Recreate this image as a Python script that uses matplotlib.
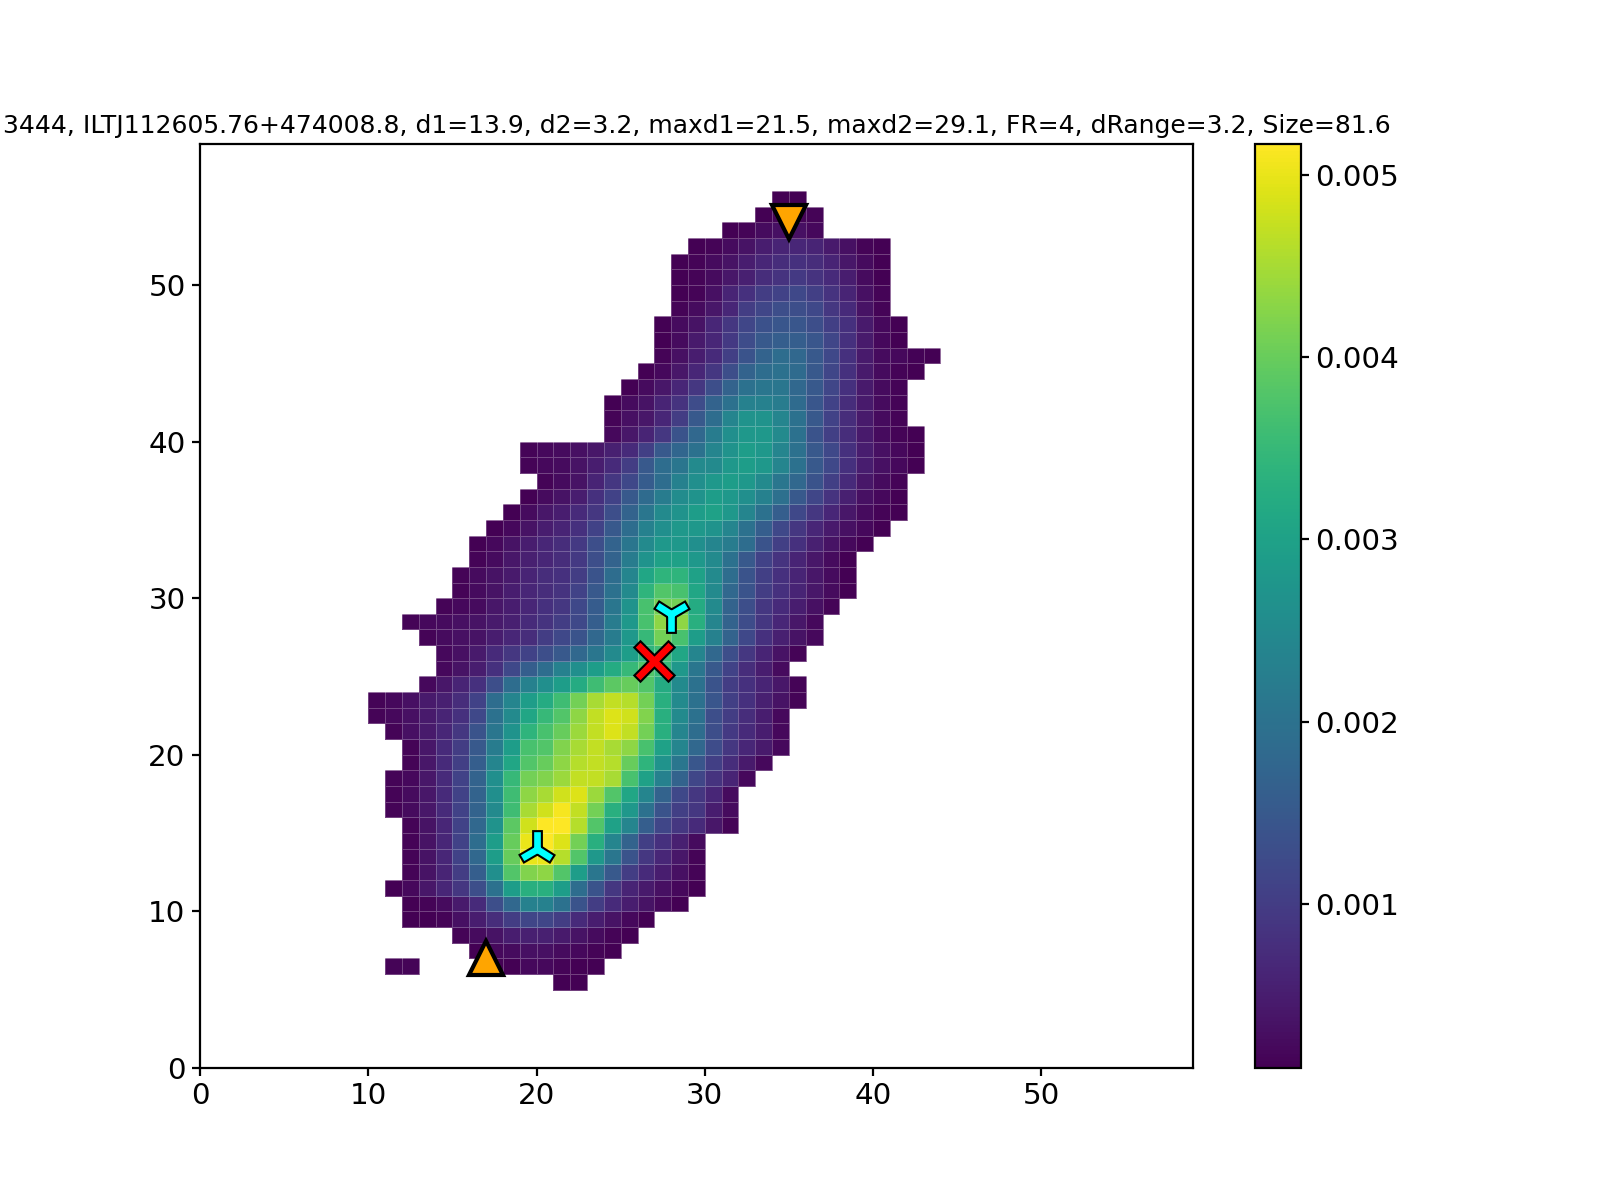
import numpy as np
import matplotlib
matplotlib.use('Agg')
import matplotlib.pyplot as plt
import matplotlib.patheffects as pe
from matplotlib.markers import MarkerStyle

# pixel brightness, one row per y, in units of 1e-4: y -> (first x, values)
unit = 1e-4
grid_size = 59
rows = {
    55: (34, [1, 1]),
    54: (33, [1, 1.5, 1.5, 1.5]),
    53: (31, [1, 1.5, 2.5, 3, 3, 2]),
    52: (29, [1, 1.5, 2.5, 3.5, 5, 6, 6.5, 6, 4.5, 3, 1.5, 1]),
    51: (28, [1, 1.5, 2.5, 3.5, 5, 6.5, 7.5, 8, 7.5, 6, 4, 2.5, 1]),
    50: (28, [1, 1.5, 2.5, 4, 5.5, 7.5, 8.5, 9.5, 8.5, 7, 5, 2.5, 1]),
    49: (28, [1, 1.5, 3, 6, 8, 10, 11, 12, 10.5, 8.5, 6, 3, 1.5]),
    48: (28, [1.5, 2.5, 4, 6.5, 10, 11.5, 13, 13, 12, 9, 7, 3.5, 1.5]),
    47: (27, [1, 2.5, 3.5, 6.5, 9, 11.5, 13.5, 14.5, 14.5, 13, 10.5, 8, 4.5, 2, 1]),
    46: (27, [1, 2.5, 4.5, 6.5, 9.5, 12.5, 15, 16, 16, 14.5, 11.5, 8, 4.5, 2, 1]),
    45: (27, [1.5, 3, 5, 7, 10.5, 14, 17, 19, 18, 15, 12, 8, 4.5, 2.5, 2, 1.2, 1]),
    44: (26, [1, 2, 4, 6.5, 9, 13, 17, 19, 20, 18.5, 15, 11.5, 8, 4.5, 2.5, 1.5, 1]),
    43: (25, [1, 2.5, 4, 6.5, 9, 13, 17, 20, 21, 21, 18, 15, 11.5, 8, 4.5, 2.5, 1.5]),
    42: (24, [1, 2.5, 3.5, 6, 8.5, 12.5, 17, 20, 23, 23, 22, 18.5, 14.5, 11, 7.5, 4.5, 2.5, 1.5]),
    41: (24, [1.5, 3, 4, 6.5, 10, 15, 19, 24, 27, 27, 24, 20, 15, 11, 7.5, 4.5, 2.5, 1.5]),
    40: (24, [2, 4, 6, 9, 14, 18, 22, 26, 28, 28, 25, 20, 14, 10.5, 7.5, 4.5, 2.5, 1.5, 1]),
    39: (19, [1.5, 2, 2.5, 3, 4, 5.5, 7, 10.5, 15, 17.5, 20, 24, 27, 29, 28, 24, 20, 15, 12, 8, 5, 3, 2, 1]),
    38: (19, [1.5, 2, 2.5, 3.5, 5, 7, 10, 15, 19, 21, 25, 25, 28, 29, 28, 24, 20, 15, 12, 8, 5, 3, 2, 1]),
    37: (20, [1.5, 2.5, 3.5, 6, 9, 12, 15.5, 19, 23, 26, 28, 29, 28, 25, 21, 18, 14, 10.5, 7, 4, 2.5, 1.5]),
    36: (19, [1, 2.5, 3.5, 5, 8, 11, 15, 18.5, 22, 25.5, 27, 29, 28, 26, 23, 19.5, 15, 11.5, 8.5, 5.5, 3, 2, 1]),
    35: (18, [1, 2.5, 4, 5, 7, 9, 13, 17, 21, 25, 27, 29, 30, 28, 24, 20, 16, 12, 9, 6.5, 4, 2.5, 1.5, 1]),
    34: (17, [1, 2, 3.5, 5, 6, 8, 11, 15, 19, 23, 26, 28, 28, 27, 24, 20, 16, 12, 9, 6.5, 4.5, 3, 2, 1]),
    33: (16, [1, 2, 3.5, 5, 6.5, 7.5, 9.5, 13, 17, 21, 25, 28, 28, 26, 24, 22, 19, 14, 10.5, 8, 5.5, 3.5, 2, 1]),
    32: (16, [1.5, 2.5, 4, 5.5, 6.5, 7.5, 9.5, 13, 17, 22, 27, 30, 30, 28, 25, 20, 15, 11, 8.5, 6, 4, 2.5, 1]),
    31: (15, [1.5, 2.5, 3.5, 4.5, 6, 7.5, 8, 10, 14, 19, 24, 31, 34, 34, 30, 25, 19, 14, 10.5, 8, 6, 4, 2.5, 1]),
    30: (15, [1.5, 2.5, 3.5, 5, 6.5, 7.5, 8.5, 11, 15, 20, 25, 34, 38, 37, 31, 25, 18, 14, 10, 8, 6, 4, 2.5, 1]),
    29: (14, [1.5, 2, 2.5, 4, 5, 6.5, 8, 9, 12, 15.5, 21, 27, 37, 41, 41, 32, 25, 17, 13, 9, 7, 5, 3, 1.5]),
    28: (12, [1.5, 2, 2.5, 3, 3.5, 4.5, 5.5, 7, 8.5, 10, 12, 16, 22, 28, 37, 43, 43, 33, 24, 17, 12.5, 9, 6.5, 4, 2]),
    27: (13, [1.5, 2.5, 3, 3.5, 5, 6.5, 7.5, 10, 12, 14, 18, 22, 28, 35, 41, 37, 29, 23, 17, 12, 8, 5.5, 3.5, 2]),
    26: (14, [2, 3, 4.5, 7, 9, 11, 13, 15, 18, 21, 25, 29, 34, 36, 31, 24, 18, 13, 9, 6, 3.5, 1.5]),
    25: (14, [2, 3.5, 5, 8, 12, 16, 19, 23, 26, 29, 32, 35, 38, 35, 28, 21, 15, 11, 7.5, 5, 2.5]),
    24: (13, [2, 4, 6, 8, 13, 19, 23, 26, 29, 32, 36, 39, 40, 38, 32, 25, 20, 14, 10, 8, 6, 4, 1.5]),
    23: (10, [1.5, 2, 3, 4.5, 5.5, 7.5, 11, 19, 24, 29, 32, 36, 41, 45, 47, 46, 41, 33, 25, 20, 14.5, 10.5, 8, 5.5, 3.5, 1.5]),
    22: (10, [1.5, 2, 3, 4.5, 6, 8, 12, 20, 25, 31, 35, 38, 43, 47, 49, 48, 42, 33, 25, 20, 13, 10, 7.5, 5, 2]),
    21: (11, [1.5, 3, 4.5, 6.5, 9, 14, 21, 27, 34, 37, 40, 44, 47, 49, 47, 41, 33, 24, 19, 13, 9.5, 7, 5, 2]),
    20: (12, [1.5, 4, 7, 10, 15, 22, 29, 37, 38, 42, 45, 47, 45, 43, 37, 30, 24, 18, 12.5, 9, 6.5, 4.5, 2]),
    19: (12, [1.5, 4, 7, 10.5, 16, 24, 31, 38, 40, 43, 46, 47, 46, 40, 34, 27, 21, 14.5, 10.5, 7.5, 4.5, 2]),
    18: (11, [1.5, 2, 4, 7, 11, 17, 26, 35, 41, 42, 44, 47, 47, 45, 37, 30, 23, 17, 11.5, 8.5, 6, 2]),
    17: (11, [1.5, 2.5, 4, 7, 11, 17, 26, 36, 43, 45, 48, 49, 44, 38, 31, 24, 17, 12, 9, 6.5, 2.5]),
    16: (11, [1.5, 2.5, 4, 7, 11, 17, 25, 36, 45, 48, 51, 47, 41, 33, 28, 20, 14, 10.5, 9, 5, 2.5]),
    15: (12, [1.5, 3.5, 6.5, 11, 18, 27, 39, 48, 51.7, 51.7, 46, 38, 30, 24, 16, 11.5, 9, 7, 4, 1.5]),
    14: (12, [1.5, 3.5, 6.5, 11, 19, 29, 40, 50, 51.7, 49, 41, 33, 24, 17, 10.5, 8, 5.5, 2.5]),
    13: (12, [1.5, 3.5, 6.5, 11, 18, 29, 40, 50, 50, 46, 38, 28, 21, 14, 9, 6.5, 4, 1.5]),
    12: (12, [1.5, 3.5, 6, 10, 16, 26, 38, 42, 43, 38, 29, 21, 15, 10, 7, 5, 3, 1.5]),
    11: (11, [1, 2, 4, 6.5, 9, 13, 20, 29, 33, 33, 29, 19, 14, 9, 6, 4.5, 3, 2, 1]),
    10: (12, [1, 1.5, 2.5, 4.5, 7, 13, 18, 23, 23, 20, 14, 10, 7, 5, 3.5, 2, 1]),
    9: (12, [1, 1, 1.5, 3, 5, 7.5, 10, 11.5, 11.5, 10, 7, 5, 3.5, 2, 1]),
    8: (15, [1.5, 2.5, 3.5, 5, 5.5, 5.5, 4.5, 3.5, 2.5, 1.5, 1]),
    7: (16, [1, 2, 2.5, 3, 3, 2.5, 2, 1.5, 1]),
    6: (17, [1, 1, 2, 2, 1.5, 1, 1]),
    5: (21, [1, 1]),
}
# two separate pixels left of the main body
stray_x = [11, 12]
stray_y = [6, 6]
stray_vals = [1.5, 1.5]

centre_x, centre_y = 27, 26
peak_x = [28, 20]
peak_y = [29, 14]
end_x = [17, 35]
end_y = [7, 54]

title = ('3444, ILTJ112605.76+474008.8, d1=13.9, d2=3.2, maxd1=21.5, '
         'maxd2=29.1, FR=4, dRange=3.2, Size=81.6')

img = np.full((grid_size, grid_size), np.nan)
for y, (x0, vals) in rows.items():
    img[y, x0:x0 + len(vals)] = vals
for x, y, v in zip(stray_x, stray_y, stray_vals):
    img[y, x] = v
img = np.ma.masked_invalid(img * unit)

fig = plt.figure(figsize=(8.005, 6), dpi=200)
mesh = plt.pcolormesh(img, cmap='viridis', edgecolors=(1, 1, 1, 0.25), linewidth=0.25)
cb = plt.colorbar(mesh)
cb.ax.tick_params(labelsize=10.6, length=3, pad=2.2)
plt.title(title, fontsize=9.03, pad=3.8)
plt.tick_params(labelsize=10.6, length=3, pad=2.2)

stroke = [pe.Stroke(linewidth=3.9, foreground='k'), pe.Normal()]
tri_down = MarkerStyle('1', capstyle='projecting')
tri_up = MarkerStyle('2', capstyle='projecting')
cross = MarkerStyle('x', capstyle='projecting')

plt.plot(end_x[0], end_y[0], marker='^', color='orange', ms=12, mec='k', mew=1.5, ls='none')
plt.plot(end_x[1], end_y[1], marker='v', color='orange', ms=12, mec='k', mew=1.5, ls='none')
plt.plot(peak_x[0], peak_y[0], marker=tri_down, color='cyan', ms=10.2, mew=2.4, ls='none', path_effects=stroke)
plt.plot(peak_x[1], peak_y[1], marker=tri_up, color='cyan', ms=10.2, mew=2.4, ls='none', path_effects=stroke)
plt.plot(centre_x, centre_y, marker=cross, color='red', ms=10, mew=2.4, ls='none', path_effects=stroke)

plt.xlim(0, grid_size)
plt.ylim(0, grid_size)
fig.savefig('out.png', dpi=200)
